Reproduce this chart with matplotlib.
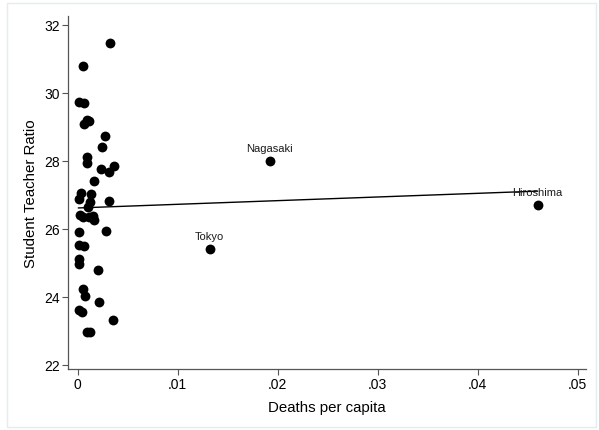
import numpy as np
import matplotlib
matplotlib.use("Agg")
import matplotlib.pyplot as plt
from matplotlib.patches import Rectangle

plt.rcParams['font.family'] = ['Liberation Sans', 'DejaVu Sans']

# Deaths per capita (x) and student-teacher ratio (y) for unlabeled prefectures
deaths = [0.0032, 0.0005, 0.0001, 0.0006, 0.0006, 0.0011, 0.0009, 0.0027, 0.0024,
          0.0009, 0.0009, 0.0023, 0.0031, 0.0036, 0.0016, 0.0003, 0.0013, 0.0001,
          0.0012, 0.0010, 0.0031, 0.0002, 0.0005, 0.0011, 0.0015, 0.0016, 0.0001,
          0.0028, 0.0001, 0.0006, 0.0001, 0.0001, 0.0020, 0.0005, 0.0007, 0.0021,
          0.0001, 0.0004, 0.0035, 0.0009, 0.0012]
ratio = [31.45, 30.78, 29.73, 29.70, 29.08, 29.15, 29.20, 28.73, 28.41,
         28.10, 27.92, 27.75, 27.67, 27.84, 27.39, 27.06, 27.03, 26.87,
         26.79, 26.62, 26.82, 26.40, 26.35, 26.34, 26.38, 26.25, 25.90,
         25.92, 25.53, 25.48, 25.10, 24.95, 24.78, 24.22, 24.03, 23.83,
         23.60, 23.55, 23.30, 22.97, 22.95]

# Labeled prefectures
label_names = ["Tokyo", "Nagasaki", "Hiroshima"]
label_deaths = [0.0132, 0.0192, 0.0460]
label_ratio = [25.40, 28.00, 26.70]

xticks = [0, 0.01, 0.02, 0.03, 0.04, 0.05]
xticklabels = ["0", ".01", ".02", ".03", ".04", ".05"]
yticks = [22, 24, 26, 28, 30, 32]

all_x = np.array(deaths + label_deaths)
all_y = np.array(ratio + label_ratio)
slope, intercept = np.polyfit(all_x, all_y, 1)

fig = plt.figure(figsize=(5.99, 4.31), dpi=100)
ax = fig.add_axes([68/599, 1 - 370/431, (586-68)/599, (370-17)/431])

ax.scatter(all_x, all_y, s=50, color='black', zorder=3, linewidths=0)
xs = np.array([all_x.min(), all_x.max()])
ax.plot(xs, intercept + slope * xs, color='black', lw=1.0, zorder=2)

for n, xv, yv in zip(label_names, label_deaths, label_ratio):
    ax.annotate(n, (xv, yv), xytext=(0, 5.5), textcoords='offset points',
                ha='center', va='bottom', fontsize=8, color='#1a1a1a')

ax.set_xlim(-0.00095, 0.05085)
ax.set_ylim(21.87, 32.25)
ax.set_xticks(xticks)
ax.set_xticklabels(xticklabels)
ax.set_yticks(yticks)
for s in ['top', 'right']:
    ax.spines[s].set_visible(False)
for s in ['left', 'bottom']:
    ax.spines[s].set_color('#555555')
    ax.spines[s].set_linewidth(0.9)
ax.tick_params(axis='both', direction='out', length=4, width=0.8, color='#555555',
               labelsize=10, labelcolor='black', pad=2)
ax.set_xlabel("Deaths per capita", fontsize=10.8, labelpad=6)
ax.set_ylabel("Student Teacher Ratio", fontsize=10.8, labelpad=4)

fig.patches.append(Rectangle((7/599, 3/431), 589/599, 424/431, transform=fig.transFigure,
                             fill=False, edgecolor='#e4ecee', lw=1.0))

fig.savefig("out.png", dpi=100)
